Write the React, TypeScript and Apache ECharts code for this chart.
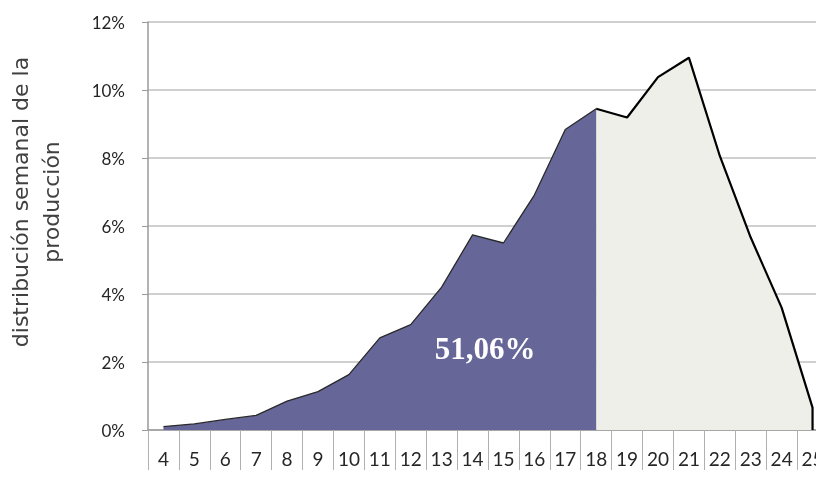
import React, { useEffect, useRef } from "react";
import * as echarts from "echarts";

const weeks = ["4","5","6","7","8","9","10","11","12","13","14","15","16","17","18","19","20","21","22","23","24","25"];
const production = [0.10,0.18,0.31,0.43,0.85,1.13,1.63,2.71,3.10,4.20,5.74,5.50,6.91,8.84,9.45,9.19,10.38,10.95,8.06,5.66,3.60,0.66];
const splitWeek = "18";
const shareLabel = "51,06%";
const yAxisTitle = "distribución semanal de la\nproducción";

export default function App() {
  const ref = useRef<HTMLDivElement>(null);
  useEffect(() => {
    if (!ref.current) return;
    const chart = echarts.init(ref.current, undefined, { renderer: "svg" });
    const splitIdx = weeks.indexOf(splitWeek);
    const firstPart = weeks.slice(0, splitIdx + 1).map((w, i) => [w, production[i]]);
    const secondPart = weeks.slice(splitIdx).map((w, i) => [w, production[splitIdx + i]]);
    secondPart.push([weeks[weeks.length - 1], 0]);
    chart.setOption({
      animation: false,
      grid: { left: 148, top: 22, height: 408, width: 680, outerBoundsMode: "none", containLabel: false },
      xAxis: {
        type: "category",
        data: weeks,
        boundaryGap: true,
        axisLine: { lineStyle: { color: "#9a9a9a", width: 1.5 } },
        axisTick: { show: true, length: 40, alignWithLabel: false, lineStyle: { color: "#b0b0b0", width: 1 } },
        axisLabel: { margin: 19, fontSize: 19, color: "#262626", fontFamily: "Lato", interval: 0 },
        splitLine: { show: false },
      },
      yAxis: {
        type: "value",
        min: 0,
        max: 12,
        interval: 2,
        axisLine: { show: true, lineStyle: { color: "#9a9a9a", width: 1.5 } },
        axisTick: { show: true, length: 6, lineStyle: { color: "#9a9a9a" } },
        axisLabel: { formatter: "{value}%", fontSize: 17, color: "#262626", fontFamily: "Lato", margin: 23 },
        splitLine: { lineStyle: { color: "#c0c0c0", width: 1.5 } },
      },
      series: [
        {
          type: "line",
          data: firstPart,
          symbol: "none",
          lineStyle: { color: "#2a2a2a", width: 1.3 },
          areaStyle: { color: "#666699", opacity: 1 },
          z: 3,
        },
        {
          type: "line",
          data: secondPart,
          symbol: "none",
          lineStyle: { color: "#000000", width: 2.2 },
          areaStyle: { color: "#eeefe8", opacity: 1 },
          z: 2,
        },
      ],
      graphic: [
        {
          type: "text",
          x: 36,
          y: 202,
          rotation: Math.PI / 2,
          style: {
            text: yAxisTitle,
            fill: "#404040",
            font: "22px 'DejaVu Sans'",
            lineHeight: 31,
            textAlign: "center",
            textVerticalAlign: "middle",
          },
          z: 10,
        },
        {
          type: "text",
          x: 485,
          y: 348,
          style: {
            text: shareLabel,
            fill: "#ffffff",
            font: "bold 31px 'Liberation Serif'",
            textAlign: "center",
            textVerticalAlign: "middle",
          },
          z: 10,
        },
      ],
    });
    return () => chart.dispose();
  }, []);
  return <div ref={ref} style={{ position: "fixed", left: 0, top: 0, width: 816, height: 479 }} />;
}
